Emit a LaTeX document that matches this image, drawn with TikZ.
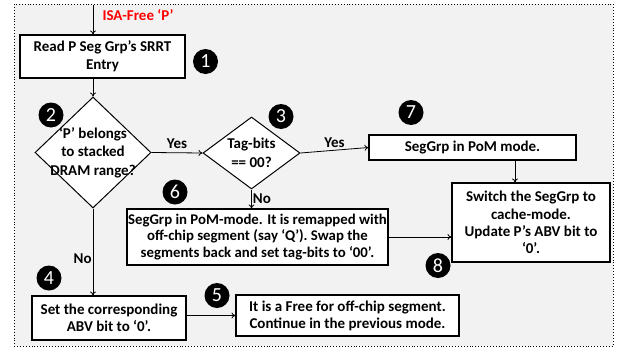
\documentclass[tikz,border=0pt]{standalone}
\usepackage{fontspec}
\setmainfont{Carlito}
\usetikzlibrary{shapes.geometric,arrows.meta}
\definecolor{panel}{HTML}{F2F2F2}
\definecolor{isared}{HTML}{FF0000}
\tikzset{
  every node/.style={font=\fontsize{15}{18}\selectfont\bfseries},
  box/.style={draw, fill=white, line width=1.1pt, inner sep=0pt, align=center},
  dia/.style={diamond, draw, fill=white, line width=1pt, inner sep=0pt},
  arr/.style={line width=0.8pt, -{To[length=4pt,width=6pt]}},
  badge/.style={circle, fill=black, minimum size=25pt, inner sep=0pt,
    text=white, font=\fontsize{20}{20}\selectfont},
  lbl/.style={inner sep=1pt}
}
\begin{document}
\begin{tikzpicture}[x=1pt,y=-1pt]
\useasboundingbox (0,0) rectangle (618,351);
% dotted panel
\draw[fill=panel, dotted, line width=0.9pt] (14,4) rectangle (613,346);

% process boxes
\node[box, minimum width=165pt, minimum height=43pt] (b1) at (102.5,56.5)
  {Read P Seg Grp's SRRT\\Entry};
\node[box, minimum width=207pt, minimum height=25pt] (b7) at (472.5,147.5)
  {SegGrp in PoM mode.};
\node[box, minimum width=158pt, minimum height=79pt,
  font=\fontsize{15}{17.2}\selectfont\bfseries] (b8) at (531,222.5)
  {Switch the SegGrp to\\cache-mode.\\Update P's ABV bit to\\`0'.};
\node[box, minimum width=261pt, minimum height=56pt,
  font=\fontsize{14.8}{16.7}\selectfont\bfseries] (b6) at (257.5,237)
  {SegGrp in PoM-mode. It is remapped with\\off-chip segment (say `Q'). Swap the\\segments back and set tag-bits to `00'.};
\node[box, minimum width=154pt, minimum height=44pt,
  font=\fontsize{15}{16.5}\selectfont\bfseries] (b4) at (109,318)
  {Set the corresponding\\ABV bit to `0'.};
\node[box, minimum width=223pt, minimum height=41pt,
  font=\fontsize{15}{17}\selectfont\bfseries] (b5) at (347.5,315.5)
  {It is a Free for off-chip segment.\\Continue in the previous mode.};

% decisions
\node[dia, minimum width=116pt, minimum height=111pt,
  label={[align=center, font=\fontsize{15}{18.5}\selectfont\bfseries]center:`P' belongs\\to stacked\\DRAM range?}]
  (d2) at (93,152.5) {};
\node[dia, minimum width=97pt, minimum height=72pt,
  label={[align=center, font=\fontsize{15}{19}\selectfont\bfseries]center:Tag-bits\\== 00?}]
  (d3) at (251.5,153) {};

% start
\coordinate (start) at (93,5);
\node[text=isared, anchor=west] (isa) at (99,15) {ISA-Free `P'};

% connectors
\draw[arr] (start) -- (start |- b1.north);
\draw[arr] (d2.north |- b1.south) -- (d2.north);
\draw[arr] (d2.east) -- node[lbl, above, yshift=3pt] (y1) {Yes} (d3.west);
\draw[arr] (d3.east) -- node[lbl, above, yshift=1pt] (y2) {Yes} (b7.west);
\draw[arr] (d2.south) -- node[lbl, left, pos=0.58] (n1) {No} (d2.south |- b4.north);
\draw[arr] (d3.south) -- node[lbl, right, pos=0.5] (n2) {No} (d3.south |- b6.north);
\draw[arr] (b6.east) -- (b6.east -| b8.west);
\draw[arr] (b4.east |- b5.west) -- (b5.west);
\draw[arr] ([xshift=42.5pt]b7.south) -- ([xshift=42.5pt]b7.south |- b8.north);

% step badges
\node[badge] (c1) at (205.5,61.5) {1};
\node[badge] (c2) at (51,115) {2};
\node[badge] (c3) at (281,116.5) {3};
\node[badge] (c4) at (49,278) {4};
\node[badge] (c5) at (217,295.5) {5};
\node[badge] (c6) at (175,192) {6};
\node[badge] (c7) at (411,112.5) {7};
\node[badge] (c8) at (438,265.5) {8};
\end{tikzpicture}
\end{document}
